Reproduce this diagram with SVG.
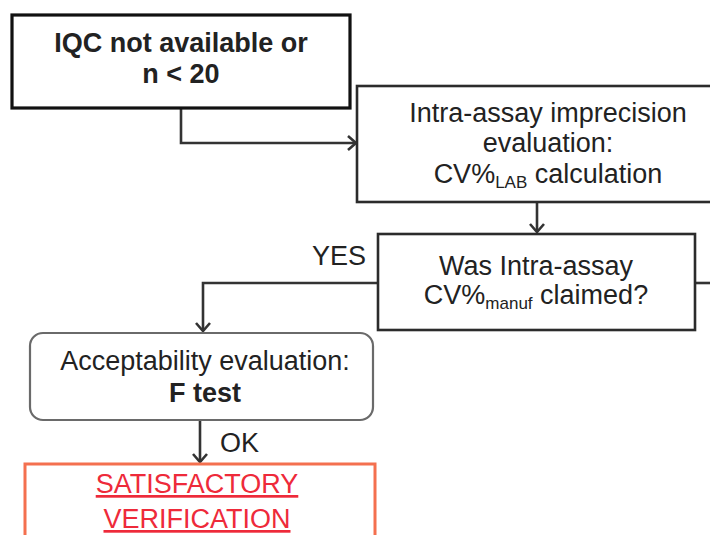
<svg xmlns="http://www.w3.org/2000/svg" width="710" height="535" viewBox="0 0 710 535">
<defs>
<style>
text{font-family:"Liberation Sans",Arial,sans-serif;font-size:27px;fill:#222;}
.b{font-weight:bold;}
.c{text-anchor:middle;}
.sub{font-size:17px;}
.box{fill:#fff;stroke:#2b2b2b;stroke-width:2.6;}
.box1{fill:#fff;stroke:#111;stroke-width:3.2;}
.rbox{fill:#fff;stroke:#6a6a6a;stroke-width:2.2;}
.red{fill:#fff;stroke:#f4704f;stroke-width:3;}
.rt{fill:#ee2a3a;text-decoration:underline;}
.ln{fill:none;stroke:#333;stroke-width:2.6;}
</style>
<marker id="arr" markerUnits="userSpaceOnUse" markerWidth="20" markerHeight="20" viewBox="0 0 20 20" refX="12" refY="10" orient="auto">
<path d="M4,3 L12,10 L4,17" fill="none" stroke="#333" stroke-width="2.6"/>
</marker>
</defs>
<g id="connectors">
<path class="ln" d="M181,108 V143 H356" marker-end="url(#arr)"/>
<path class="ln" d="M537,202 V232" marker-end="url(#arr)"/>
<path class="ln" d="M378,283 H203 V331" marker-end="url(#arr)"/>
<path class="ln" d="M200,420 V462" marker-end="url(#arr)"/>
<path class="ln" d="M695,283 H712"/>
<text x="366" y="265" text-anchor="end">YES</text>
<text x="220" y="452">OK</text>
</g>
<g id="n1">
<rect class="box1" x="12" y="15" width="338" height="93"/>
<text class="b c" x="181" y="52">IQC not available or</text>
<text class="b c" x="181" y="83">n &lt; 20</text>
</g>
<g id="n2">
<rect class="box" x="357" y="86" width="360" height="116"/>
<text class="c" x="548" y="122">Intra-assay imprecision</text>
<text class="c" x="548" y="152">evaluation:</text>
<text class="c" x="548" y="183">CV%<tspan class="sub" dy="5">LAB</tspan><tspan dy="-5"> calculation</tspan></text>
</g>
<g id="n3">
<rect class="box" x="378" y="234" width="317" height="96"/>
<text class="c" x="536" y="275">Was Intra-assay</text>
<text class="c" x="536" y="304">CV%<tspan class="sub" dy="5">manuf</tspan><tspan dy="-5"> claimed?</tspan></text>
</g>
<g id="n4">
<rect class="rbox" x="30" y="333" width="343" height="87" rx="13"/>
<text class="c" x="205" y="370">Acceptability evaluation:</text>
<text class="b c" x="205" y="402">F test</text>
</g>
<g id="n5">
<rect class="red" x="25" y="464" width="350" height="100"/>
<text class="rt c" x="197" y="493">SATISFACTORY</text>
<text class="rt c" x="197" y="528">VERIFICATION</text>
</g>
</svg>
